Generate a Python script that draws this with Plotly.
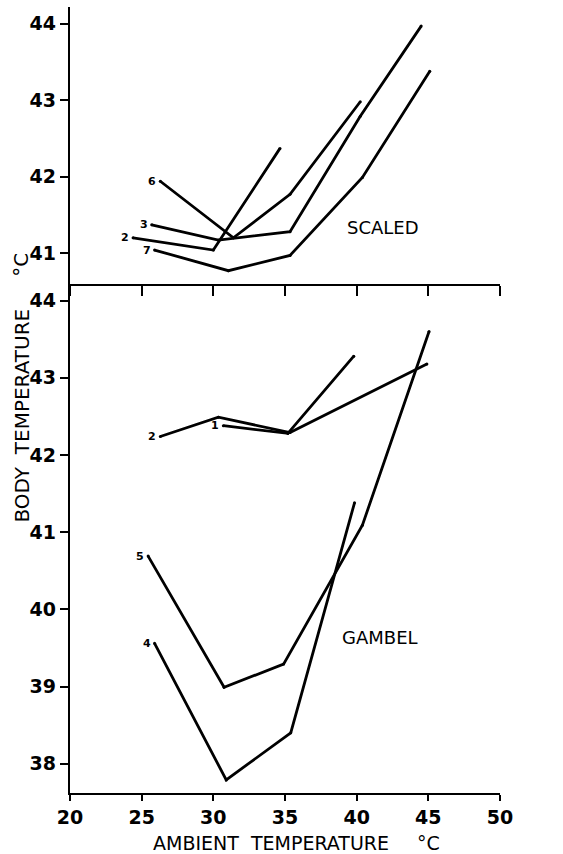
import plotly.graph_objects as go

# ---- data ----
# SCALED (top panel)
sc_labels = ["6", "3", "2", "7"]
sc_x = [
    [26.3, 31.4, 35.35, 40.25],
    [25.7, 30.35, 35.35, 40.25, 44.5],
    [24.4, 30.0, 34.65],
    [25.9, 31.05, 35.35, 40.4, 45.1],
]
sc_y = [
    [41.94, 41.2, 41.77, 42.98],
    [41.37, 41.17, 41.28, 42.79, 43.97],
    [41.2, 41.04, 42.37],
    [41.04, 40.77, 40.97, 41.99, 43.38],
]
# GAMBEL (bottom panel)
gb_labels = ["2", "1", "5", "4"]
gb_x = [
    [26.3, 30.35, 35.35, 44.9],
    [30.7, 35.2, 39.8],
    [25.45, 30.75, 34.9, 40.4, 45.05],
    [25.9, 30.9, 35.4, 39.85],
]
gb_y = [
    [42.24, 42.49, 42.29, 43.18],
    [42.38, 42.28, 43.28],
    [40.69, 38.99, 39.29, 41.09, 43.6],
    [39.56, 37.79, 38.4, 41.38],
]
x_ticks = [20, 25, 30, 35, 40, 45, 50]
top_yticks = [41, 42, 43, 44]
bot_yticks = [38, 39, 40, 41, 42, 43, 44]

FONT = "DejaVu Sans"
fig = go.Figure()

def add_series(xs, ys, labels, xa, ya):
    for xv, yv, lab in zip(xs, ys, labels):
        fig.add_trace(go.Scatter(
            x=xv, y=yv, mode="lines+markers", xaxis=xa, yaxis=ya,
            line=dict(color="black", width=2.8),
            marker=dict(color="black", size=3),
            showlegend=False, hoverinfo="skip"))
        fig.add_annotation(x=xv[0], y=yv[0], xref=xa, yref=ya,
                           text="<b>%s</b>" % lab, showarrow=False,
                           xanchor="right", yanchor="middle", xshift=-2,
                           font=dict(family=FONT, size=11, color="black"))

add_series(sc_x, sc_y, sc_labels, "x2", "y2")
add_series(gb_x, gb_y, gb_labels, "x", "y")

fig.add_annotation(x=41.85, y=41.33, xref="x2", yref="y2", text="SCALED",
                   showarrow=False, font=dict(family=FONT, size=18, color="black"))
fig.add_annotation(x=41.6, y=39.64, xref="x", yref="y", text="GAMBEL",
                   showarrow=False, font=dict(family=FONT, size=18, color="black"))

# axis titles
fig.add_annotation(x=-0.112, y=0.48, xref="paper", yref="paper",
                   text="BODY  TEMPERATURE", textangle=-90, showarrow=False,
                   xanchor="center", yanchor="middle",
                   font=dict(family=FONT, size=20, color="black"))
fig.add_annotation(x=-0.114, y=0.672, xref="paper", yref="paper",
                   text="°C", textangle=-90, showarrow=False,
                   xanchor="center", yanchor="middle",
                   font=dict(family=FONT, size=20, color="black"))
fig.add_annotation(x=0.467, y=-0.063, xref="paper", yref="paper",
                   text="AMBIENT  TEMPERATURE", showarrow=False,
                   xanchor="center", yanchor="middle",
                   font=dict(family=FONT, size=19, color="black"))
fig.add_annotation(x=0.833, y=-0.063, xref="paper", yref="paper",
                   text="°C", showarrow=False,
                   xanchor="center", yanchor="middle",
                   font=dict(family=FONT, size=19, color="black"))

axcommon = dict(showgrid=False, zeroline=False, showline=True, linecolor="black",
                linewidth=2.4, ticks="outside", tickcolor="black", tickwidth=2,
                tickfont=dict(family=FONT, size=19, color="black", weight="bold"))

fig.update_layout(
    width=563, height=854,
    margin=dict(l=70, r=63, t=7, b=61),
    paper_bgcolor="white", plot_bgcolor="white",
    xaxis=dict(range=[20, 50], tickvals=x_ticks, ticklen=6, anchor="y", **axcommon),
    yaxis=dict(range=[37.62, 44.22], domain=[0, 0.648], tickvals=bot_yticks,
               ticklen=8, anchor="x", **axcommon),
    xaxis2=dict(range=[20, 50], tickvals=x_ticks, ticklen=10, anchor="y2",
                showticklabels=False, **axcommon),
    yaxis2=dict(range=[40.6, 44.22], domain=[0.648, 1], tickvals=top_yticks,
                ticklen=8, anchor="x2", **axcommon),
)

fig.write_html("out.html")
